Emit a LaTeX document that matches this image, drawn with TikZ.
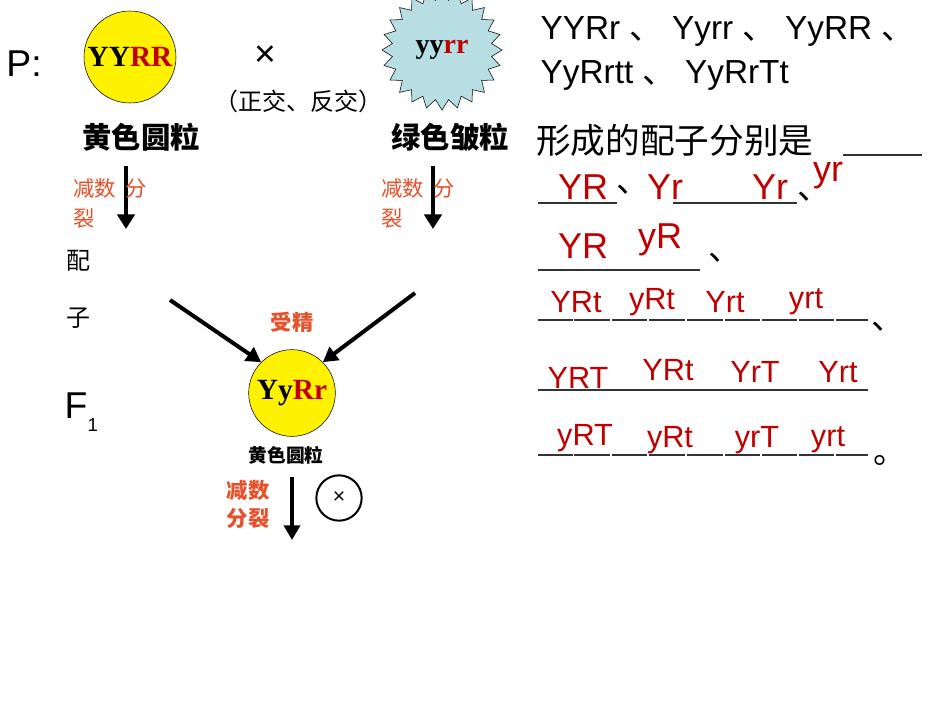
\documentclass[tikz,border=0pt]{standalone}
\usepackage{fontspec}
\setmainfont{Liberation Sans}
\newfontfamily\cjk{Noto Sans CJK SC}
\newfontfamily\serifb{Liberation Serif}
\usetikzlibrary{shapes.geometric,shapes.misc,arrows.meta}
\definecolor{dred}{HTML}{C00000}
\definecolor{ored}{HTML}{E8502A}
\definecolor{sky}{HTML}{B7DEE3}
\newcommand{\dun}{{\cjk 、}}
\tikzset{
 big/.style={font=\fontsize{25}{27}\selectfont},
 ans/.style={font=\fontsize{27}{29}\selectfont,text=dred,inner sep=0pt},
 ans2/.style={font=\fontsize{23}{25}\selectfont,text=dred,inner sep=0pt},
 cn/.style={font=\cjk\fontsize{20}{22}\selectfont,inner sep=0pt},
 lab/.style={font=\cjk\bfseries\fontsize{22}{24}\selectfont,inner sep=0pt},
 orn/.style={font=\cjk\fontsize{16}{18}\selectfont,text=ored,inner sep=0pt},
 ornb/.style={font=\cjk\bfseries\fontsize{16}{18}\selectfont,text=ored,inner sep=0pt},
 fat/.style={line width=3.5pt,-{Triangle[length=11pt,width=13pt]}},
 ul/.style={line width=1pt,black!80},
 pea/.style={circle,draw,fill=yellow,minimum size=69pt,inner sep=0pt,font=\serifb\bfseries\fontsize{22}{24}\selectfont}
}
\begin{document}
\begin{tikzpicture}[x=0.75pt,y=-0.75pt]
\path[use as bounding box,fill=white] (0,0) rectangle (950,713);
\node[big,font=\fontsize{28}{30}\selectfont] (P) at (24,64) {P:};
\node[pea] (A) at (130,57) {YY\textcolor{dred}{RR}};
\node[star,star points=24,star point ratio=1.2,draw,fill=sky,minimum size=90pt,inner sep=0pt,font=\serifb\bfseries\fontsize{21}{23}\selectfont] (B) at (442,50) {yy\textcolor{dred}{rr}};
\node[font=\fontsize{28}{30}\selectfont] (x) at (265,56) {×};
\node[cn,font=\cjk\fontsize{18}{20}\selectfont] (zf) at (298,101) {（正交、反交）};
\node[lab] (la) at (141,137) {黄色圆粒};
\node[lab] (lb) at (450,137) {绿色皱粒};
\coordinate (a1) at (126,166); \coordinate (a2) at (126,229);
\coordinate (b1) at (433,166); \coordinate (b2) at (433,229);
\draw[fat] (a1) -- (a2);
\draw[fat] (b1) -- (b2);
\node[orn,anchor=west] (ja) at (73,188) {减数\ \ 分};
\node[orn,anchor=west] (jb) at (73,218) {裂};
\node[orn,anchor=west] (jc) at (381,188) {减数\ \ 分};
\node[orn,anchor=west] (jd) at (381,218) {裂};
\node[cn,font=\cjk\fontsize{18}{20}\selectfont] (pei) at (78,261) {配};
\node[cn,font=\cjk\fontsize{18}{20}\selectfont] (zi) at (78,318) {子};
\node[pea,minimum size=65pt] (C) at (292,393) {Yy\textcolor{dred}{Rr}};
\coordinate (d1) at (170,300); \coordinate (d2) at (415,293);
\draw[line width=3pt,-{Triangle[length=11pt,width=12pt]}] (d1) -- (C.135);
\draw[line width=3pt,-{Triangle[length=11pt,width=12pt]}] (d2) -- (C.45);
\node[ornb] (sj) at (292,322) {受精};
\node[font=\fontsize{28}{30}\selectfont,anchor=west] (F) at (60,412) {F\raisebox{-0.35em}{\fontsize{14}{16}\selectfont 1}};
\node[lab,font=\cjk\bfseries\fontsize{14}{16}\selectfont] (lc) at (286,455) {黄色圆粒};
\node[ornb] (jj1) at (248,490) {减数};
\node[ornb] (jj2) at (248,518) {分裂};
\coordinate (c1) at (292,477); \coordinate (c2) at (292,540);
\draw[line width=3pt,-{Triangle[length=11pt,width=12pt]}] (c1) -- (c2);
\node[circle,draw,line width=1.5pt,minimum size=34pt,inner sep=0pt,font=\fontsize{16}{18}\selectfont] (self) at (339,498) {×};
% right text
\node[big,anchor=west] (t1) at (536,31) {YYRr \dun{} Yyrr \dun{} YyRR \dun};
\node[big,anchor=west] (t2) at (536,75) {YyRrtt \dun{} YyRrTt};
\node[cn,font=\cjk\fontsize{26}{28}\selectfont,anchor=west] (t3) at (536,140) {形成的配子分别是};
\draw[ul] (843,155) -- (922,155);
% line 2
\draw[ul] (538,203) -- (617,203);
\node[ans] at (583,187) {YR};
\node[big,inner sep=0pt] at (633,190) {\dun};
\node[ans] at (665,187) {Yr};
\draw[ul] (673,203) -- (797,203);
\node[ans] at (770,187) {Yr};
\node[big,inner sep=0pt] at (814,197) {\dun};
\node[ans] at (828,176) {yr};
% line 3
\node[ans] at (583,246) {YR};
\node[ans] at (660,240) {yR};
\draw[ul] (538,270) -- (700,270);
\node[big,inner sep=0pt] at (725,258) {\dun};
% line 4
\foreach \a/\b in {538/573,574/610,612/647,649/685,687/723,725/760,762/797,799/834,836/868}
  \draw[ul,line width=0.8pt] (\a,320) -- (\b,320);
\node[ans2] at (576,302) {YRt};
\node[ans2] at (652,302) {yRt};
\node[ans2] at (725,302) {Yrt};
\node[ans2] at (806,302) {yrt};
\node[big,inner sep=0pt] at (888,327) {\dun};
% line 5
\draw[ul] (538,390) -- (868,390);
\node[ans2] at (578,378) {YRT};
\node[ans2] at (668,370) {YRt};
\node[ans2] at (755,372) {YrT};
\node[ans2] at (838,372) {Yrt};
% line 6
\foreach \a/\b in {538/573,574/610,612/647,649/685,687/723,725/760,762/797,799/834,836/868}
  \draw[ul,line width=0.8pt] (\a,455) -- (\b,455);
\node[ans2] at (585,438) {yRT};
\node[ans2] at (670,440) {yRt};
\node[ans2] at (757,440) {yrT};
\node[ans2] at (828,440) {yrt};
\node[big,inner sep=0pt] at (890,460) {{\cjk 。}};
\end{tikzpicture}
\end{document}
